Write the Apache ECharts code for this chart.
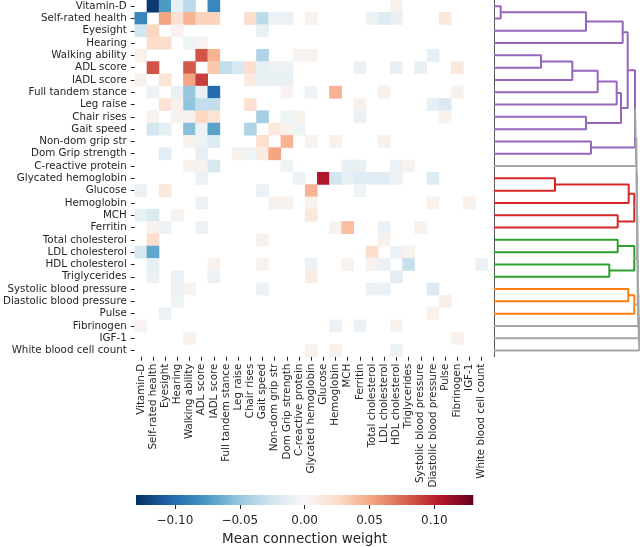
<!DOCTYPE html>
<html><head><meta charset="utf-8">
<script src="https://cdn.jsdelivr.net/npm/echarts@6/dist/echarts.min.js"></script>
<style>html,body{margin:0;padding:0;background:#fff}#c{width:640px;height:547px}</style>
</head><body><div id="c"></div><script>
// ---- data ----
const variables = ['Vitamin-D','Self-rated health','Eyesight','Hearing','Walking ability','ADL score','IADL score','Full tandem stance','Leg raise','Chair rises','Gait speed','Non-dom grip str','Dom Grip strength','C-reactive protein','Glycated hemoglobin','Glucose','Hemoglobin','MCH','Ferritin','Total cholesterol','LDL cholesterol','HDL cholesterol','Triglycerides','Systolic blood pressure','Diastolic blood pressure','Pulse','Fibrinogen','IGF-1','White blood cell count'];

// [row, column, mean connection weight]
const cellValues = [
[0,1,-0.125],[0,2,-0.075],[0,3,-0.012],[0,4,-0.035],[0,6,-0.085],[0,21,0.005],
[1,0,-0.085],[1,2,0.052],[1,3,0.02],[1,4,0.045],[1,5,0.03],[1,6,0.03],[1,9,0.022],[1,10,-0.035],[1,11,-0.008],[1,12,-0.008],[1,14,0.005],[1,19,-0.007],[1,20,-0.018],[1,21,-0.01],[1,25,0.014],
[2,0,-0.025],[2,1,0.028],[2,3,0.005],[2,10,-0.01],
[3,1,0.024],[3,2,0.024],[3,4,-0.006],[3,5,0.004],
[4,0,0.006],[4,5,0.082],[4,6,0.045],[4,10,-0.04],[4,13,0.004],[4,14,0.006],[4,24,-0.012],
[5,1,0.082],[5,4,0.08],[5,6,0.036],[5,7,-0.032],[5,8,-0.022],[5,9,0.022],[5,10,-0.012],[5,11,-0.008],[5,12,-0.008],[5,18,-0.008],[5,21,-0.01],[5,23,-0.01],[5,26,0.014],
[6,0,0.005],[6,2,0.018],[6,4,0.052],[6,5,0.09],[6,9,0.012],[6,10,-0.01],[6,11,-0.01],[6,12,-0.01],
[7,1,-0.007],[7,3,-0.01],[7,4,-0.05],[7,5,-0.01],[7,6,-0.1],[7,12,0.004],[7,14,-0.006],[7,16,0.045],[7,20,0.005],[7,26,0.005],
[8,2,0.018],[8,3,0.006],[8,4,-0.052],[8,5,-0.032],[8,6,-0.032],[8,9,0.02],[8,18,0.006],[8,24,-0.012],[8,25,-0.02],
[9,1,0.005],[9,3,0.005],[9,4,0.005],[9,5,0.028],[9,6,0.018],[9,10,-0.045],[9,12,-0.006],[9,13,0.005],[9,18,-0.008],[9,25,0.006],
[10,1,-0.025],[10,2,-0.012],[10,4,-0.055],[10,5,-0.006],[10,6,-0.07],[10,9,-0.04],[10,11,0.014],[10,12,0.006],[10,13,-0.006],
[11,4,0.006],[11,5,-0.006],[11,6,-0.018],[11,10,0.022],[11,12,0.045],[11,14,0.005],[11,16,0.006],[11,20,0.005],
[12,2,-0.014],[12,5,-0.012],[12,8,0.005],[12,9,-0.006],[12,10,0.01],[12,11,0.052],
[13,4,0.006],[13,5,0.005],[13,6,-0.022],[13,12,-0.006],[13,17,-0.01],[13,18,-0.01],[13,21,-0.008],[13,22,0.005],
[14,5,-0.008],[14,13,-0.008],[14,15,0.105],[14,16,-0.025],[14,17,-0.012],[14,18,-0.016],[14,19,-0.016],[14,20,-0.016],[14,21,-0.008],[14,24,-0.018],
[15,0,-0.008],[15,2,0.014],[15,10,-0.008],[15,14,0.045],[15,18,-0.006],
[16,5,-0.008],[16,11,0.005],[16,12,0.005],[16,14,0.006],[16,24,0.006],[16,27,0.006],
[17,0,-0.01],[17,1,-0.02],[17,3,0.005],[17,14,0.014],
[18,1,0.005],[18,2,-0.008],[18,5,-0.008],[18,16,0.005],[18,17,0.04],[18,20,-0.008],[18,23,0.006],
[19,1,0.024],[19,10,0.005],[19,20,0.006],
[20,0,-0.022],[20,1,-0.068],[20,19,0.022],[20,21,-0.008],[20,22,0.006],
[21,1,-0.012],[21,6,0.005],[21,10,0.005],[21,14,-0.008],[21,17,0.005],[21,19,0.006],[21,20,-0.008],[21,22,-0.03],[21,28,-0.008],
[22,1,-0.008],[22,3,-0.008],[22,6,-0.008],[22,14,0.01],[22,21,-0.014],
[23,3,-0.008],[23,4,0.006],[23,10,-0.008],[23,19,-0.008],[23,20,-0.008],[23,24,-0.02],
[24,3,-0.006],[24,25,0.007],
[25,2,-0.008],[25,24,0.006],
[26,0,0.004],[26,16,-0.008],[26,18,-0.008],[26,21,0.005],
[27,4,0.006],[27,26,0.006],
[28,14,0.006],[28,16,0.006],[28,21,-0.008]
];

// dendrogram linkage (scipy style): [childA, childB, merge distance]; leaves 0..28, merges numbered from 29
const linkage = [
[0,1,6.7],[29,2,92],[30,3,128.7],[4,5,47],[32,6,78.3],[33,7,103.7],[34,8,122.7],[9,10,92],[35,36,127],[31,37,133.7],[11,12,97],[38,39,141],
[14,15,61],[41,16,134.7],[17,18,123.7],[42,43,140.3],
[19,20,123.7],[21,22,115.3],[45,46,140.3],
[23,24,134.3],[48,25,140.3],
[40,13,142.3],[50,44,142.8],[51,47,143.3],[52,49,143.8],[53,26,144.3],[54,27,144.8],[55,28,145.3]
];
const linkColors = [
'#9467bd','#9467bd','#9467bd','#9467bd','#9467bd','#9467bd','#9467bd','#9467bd','#9467bd','#9467bd','#9467bd','#9467bd',
'#d62728','#d62728','#d62728','#d62728',
'#2ca02c','#2ca02c','#2ca02c',
'#ff7f0e','#ff7f0e',
'#a5a5a5','#a5a5a5','#a5a5a5','#a5a5a5','#a5a5a5','#a5a5a5','#a5a5a5'
];

const vmin = -0.13, vmax = 0.13;
const colorbarTicks = [-0.1, -0.05, 0, 0.05, 0.1];
const colorbarTitle = 'Mean connection weight';
const rdbuR = ['#053061','#2166ac','#4393c3','#92c5de','#d1e5f0','#f7f7f7','#fddbc7','#f4a582','#d6604d','#b2182b','#67001f'];

// ---- build ----
const FONT = 'DejaVu Sans';
const TXT = '#262626';
const n = variables.length;
const nodeY = [], nodeH = [];
for (let i = 0; i < n; i++) { nodeY[i] = i; nodeH[i] = 0; }
const dendroSeries = linkage.map((l, k) => {
  const [a, b, h] = l;
  const id = n + k;
  nodeY[id] = (nodeY[a] + nodeY[b]) / 2; nodeH[id] = h;
  return {
    type: 'line', xAxisIndex: 1, yAxisIndex: 1, silent: true, animation: false,
    showSymbol: false, symbol: 'none',
    lineStyle: { color: linkColors[k], width: 2 },
    data: [[nodeH[a], nodeY[a]], [h, nodeY[a]], [h, nodeY[b]], [nodeH[b], nodeY[b]]]
  };
});

const chart = echarts.init(document.getElementById('c'), null, { renderer: 'canvas' });
const fmt = v => (v < 0 ? '\u2212' : '') + Math.abs(v).toFixed(2);
chart.setOption({
  animation: false,
  backgroundColor: '#ffffff',
  textStyle: { fontFamily: FONT },
  grid: [
    { left: 131, top: 0, width: 356.7, height: 356.7 },
    { left: 494, top: 0, width: 146, height: 356.7 },
    { left: 136, top: 495, width: 337.3, height: 10.7 }
  ],
  xAxis: [
    { type: 'category', gridIndex: 0, data: variables, position: 'bottom',
      axisLine: { show: false }, splitLine: { show: false },
      axisTick: { show: true, length: 4, alignWithLabel: true, interval: 0, lineStyle: { color: TXT } },
      axisLabel: { rotate: 90, interval: 0, margin: 7, fontSize: 10.3, color: TXT, fontFamily: FONT } },
    { type: 'value', gridIndex: 1, min: 0, max: 146, show: false },
    { type: 'value', gridIndex: 2, min: vmin, max: vmax, position: 'bottom',
      axisLine: { show: false }, splitLine: { show: false },
      axisTick: { show: true, length: 4, customValues: colorbarTicks, lineStyle: { color: TXT } },
      axisLabel: { customValues: colorbarTicks, formatter: fmt, fontSize: 12, color: TXT, margin: 10, fontFamily: FONT },
      name: colorbarTitle, nameLocation: 'middle', nameGap: 27,
      nameTextStyle: { fontSize: 13.5, color: TXT, fontFamily: FONT } }
  ],
  yAxis: [
    { type: 'category', gridIndex: 0, data: variables, inverse: true,
      axisLine: { show: false }, splitLine: { show: false },
      axisTick: { show: true, length: 4, alignWithLabel: true, interval: 0, lineStyle: { color: TXT } },
      axisLabel: { interval: 0, margin: 8, fontSize: 10.3, color: TXT, fontFamily: FONT } },
    { type: 'value', gridIndex: 1, min: -0.5, max: n - 0.5, inverse: true,
      axisLine: { show: true, onZero: false, lineStyle: { color: '#555555', width: 1 } },
      axisTick: { show: false }, axisLabel: { show: false }, splitLine: { show: false } },
    { type: 'value', gridIndex: 2, min: 0, max: 1, show: false }
  ],
  visualMap: {
    type: 'continuous', show: false, seriesIndex: 0, min: vmin, max: vmax, dimension: 2,
    inRange: { color: rdbuR }
  },
  series: [
    { type: 'heatmap', xAxisIndex: 0, yAxisIndex: 0, silent: true,
      data: cellValues.map(d => [d[1], d[0], d[2]]),
      itemStyle: { borderWidth: 0 }, emphasis: { disabled: true } },
    ...dendroSeries,
    { type: 'custom', xAxisIndex: 2, yAxisIndex: 2, silent: true,
      data: [[vmin, vmax]], encode: { x: [0, 1] },
      renderItem: (params, api) => {
        const p0 = api.coord([api.value(0), 1]);
        const p1 = api.coord([api.value(1), 0]);
        return { type: 'rect',
          shape: { x: p0[0], y: p0[1], width: p1[0] - p0[0], height: p1[1] - p0[1] },
          style: { fill: new echarts.graphic.LinearGradient(0, 0, 1, 0,
            rdbuR.map((c, i) => ({ offset: i / (rdbuR.length - 1), color: c }))) } };
      } }
  ]
});
</script></body></html>
